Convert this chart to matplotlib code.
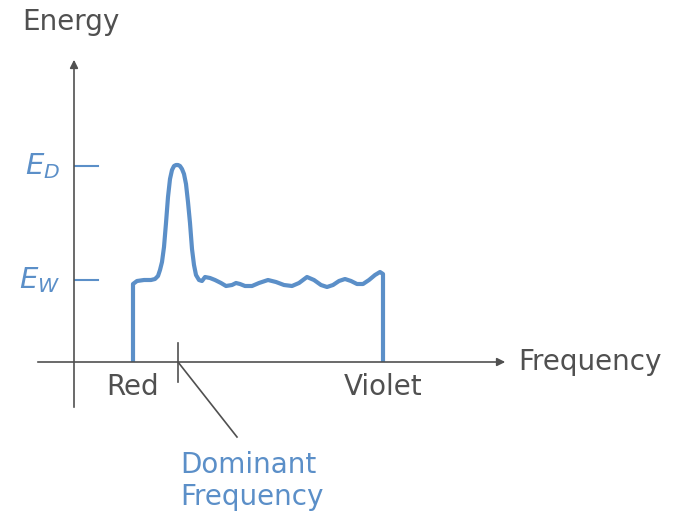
import matplotlib.pyplot as plt

# spectrum readings (frequency, energy) in picture units, origin at the axes crossing
freq = [59, 59, 63, 70, 77, 81, 84, 86, 88, 90, 92, 94, 96, 98, 100, 102, 104, 106, 108, 110,
        112, 114, 116, 118, 120, 122, 125, 128, 131, 136, 141, 147, 152, 158, 162, 166, 171,
        178, 185, 194, 202, 210, 218, 225, 233, 240, 247, 253, 259, 265, 271, 277, 283, 289,
        295, 301, 306, 309, 309]
energy = [0, 78, 81, 82, 82, 83, 86, 92, 100, 115, 139, 165, 183, 192, 196, 197, 197, 196, 193, 188,
          178, 160, 139, 113, 97, 87, 82, 81, 85, 84, 82, 79, 76, 77, 79, 78, 76,
          76, 79, 82, 80, 77, 76, 79, 85, 82, 77, 75, 77, 81, 83, 81, 78, 78,
          82, 87, 90, 88, 0]

e_levels = [196, 82]
e_labels = ['$E_D$', '$E_W$']
red_freq = 59
violet_freq = 309
dominant_freq = 104

blue = '#5b8fc8'
grey = '#505050'

fig = plt.figure(figsize=(6.81, 5.18), dpi=100)
ax = fig.add_axes([0, 0, 1, 1])
ax.set_xlim(-74, 607)
ax.set_ylim(-156, 362)
ax.axis('off')

# axes with arrow heads
ax.annotate('', xy=(434, 0), xytext=(-39, 0),
            arrowprops=dict(arrowstyle='-|>', color=grey, lw=1.2, mutation_scale=12))
ax.annotate('', xy=(0, 305), xytext=(0, -48),
            arrowprops=dict(arrowstyle='-|>', color=grey, lw=1.2, mutation_scale=12))

# the spectrum
ax.plot(freq, energy, color=blue, lw=3, solid_joinstyle='round', solid_capstyle='butt')

# energy levels
for lev, lab in zip(e_levels, e_labels):
    ax.plot([1, 24], [lev, lev], color=blue, lw=1.5)
    ax.text(-14, lev, lab, color=blue, fontsize=21, ha='right', va='center')

# dominant frequency marker and leader
ax.plot([dominant_freq, dominant_freq], [19, -20], color=grey, lw=1.2)
ax.plot([dominant_freq, 163], [0, -75], color=grey, lw=1.2)

txt = dict(fontsize=20, family='DejaVu Sans', color=grey)
ax.text(-52, 340, 'Energy', ha='left', va='center', **txt)
ax.text(444, 0, 'Frequency', ha='left', va='center', **txt)
ax.text(red_freq, -25, 'Red', ha='center', va='center', **txt)
ax.text(violet_freq, -25, 'Violet', ha='center', va='center', **txt)
ax.text(106, -103, 'Dominant', ha='left', va='center', fontsize=20,
        family='DejaVu Sans', color=blue)
ax.text(106, -135, 'Frequency', ha='left', va='center', fontsize=20,
        family='DejaVu Sans', color=blue)

fig.savefig('out.png', dpi=100)
